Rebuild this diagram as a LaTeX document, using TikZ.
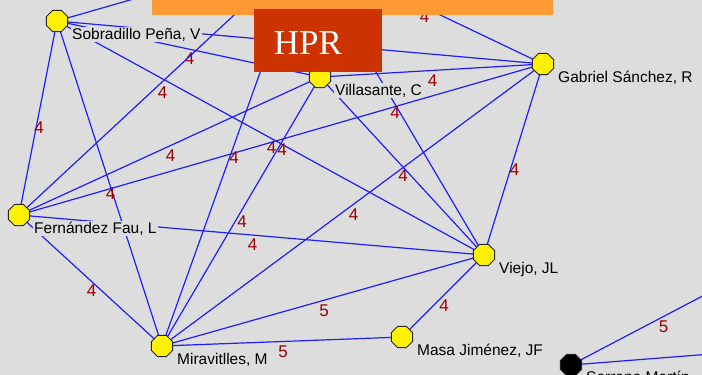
\documentclass[tikz,border=0pt]{standalone}
\usepackage{fontspec}
\setmainfont{Liberation Sans}
\newfontfamily\serifhpr{Liberation Serif}
\usepackage{tikz}
\usetikzlibrary{shapes.geometric}
\definecolor{fundo}{RGB}{221,221,221}
\definecolor{azul}{RGB}{30,30,255}
\definecolor{vermelho}{RGB}{153,0,0}
\definecolor{laranja}{RGB}{255,153,51}
\definecolor{tijolo}{RGB}{204,51,0}
\pgfdeclarelayer{arestas}
\pgfsetlayers{arestas,main}

\begin{document}
\begin{tikzpicture}[x=1pt,y=-1pt,
  ator/.style={regular polygon,regular polygon sides=8,minimum size=23pt,inner sep=0pt,fill=yellow,draw=black!85,line width=0.8pt},
  preto/.style={ator,fill=black},
  nome/.style={anchor=base west,fill=fundo,inner sep=1pt,font=\fontsize{15.5}{16}\selectfont},
  laco/.style={draw=azul,line width=1.2pt},
  peso/.style={midway,yshift=-10pt,xshift=1pt,text=vermelho,font=\fontsize{17}{17}\selectfont}]
\useasboundingbox (0,0) rectangle (702,375);
\clip (0,0) rectangle (702,375);
% Vertices
\node[ator] (sob) at (57,21) {};
\node[ator] (vil) at (320,77) {};
\node[ator] (gab) at (543,64) {};
\node[ator] (fer) at (19,215) {};
\node[ator] (vie) at (484,255) {};
\node[ator] (mir) at (162,346) {};
\node[ator] (mas) at (402,337) {};
\node[preto] (sm) at (571,365) {};
\coordinate (topo) at (304,-50); % fora da figura
\coordinate (ne1) at (754,269);
\coordinate (ne2) at (800,347);
% Arestas
\begin{pgfonlayer}{arestas}
\clip (0,0) rectangle (702,375);
\fill[fundo] (0,0) rectangle (702,375);
\draw[laco] (sob.center) -- (topo);
\draw[laco] (sob) -- (gab);
\draw[laco] (sob) -- (vil) node[peso] {4};
\draw[laco] (sob) -- (vie) node[peso] {4};
\draw[laco] (sob) -- (fer) node[peso] {4};
\draw[laco] (sob) -- (mir) node[peso] {4};
\draw[laco] (fer.center) -- (topo) node[peso] {4};
\draw[laco] (fer) -- (vil) node[peso] {4};
\draw[laco] (fer) -- (gab) node[peso] {4};
\draw[laco] (fer) -- (vie) node[peso] {4};
\draw[laco] (fer) -- (mir) node[peso] {4};
\draw[laco] (mir.center) -- (topo) node[peso] {4};
\draw[laco] (mir) -- (vil) node[peso] {4};
\draw[laco] (mir) -- (gab) node[peso] {4};
\draw[laco] (mir) -- (vie) node[peso] {5};
\draw[laco] (mir) -- (mas) node[peso] {5};
\draw[laco] (vil) -- (gab) node[peso] {4};
\draw[laco] (vil) -- (vie) node[peso] {4};
\draw[laco] (gab) -- (vie) node[peso] {4};
\draw[laco] (gab.center) -- (topo) node[peso] {4};
\draw[laco] (vie.center) -- (topo) node[peso] {4};
\draw[laco] (vie) -- (mas) node[peso] {4};
\draw[laco] (sm.center) -- (ne1) node[peso] {5};
\draw[laco] (sm.center) -- (ne2);
\end{pgfonlayer}
% Rotulos
\node[nome] (sobT) at ([shift={(14,18)}]sob.center) {Sobradillo Peña, V};
\node[nome] (vilT) at ([shift={(14,18)}]vil.center) {Villasante, C};
\node[nome] (gabT) at ([shift={(14,18)}]gab.center) {Gabriel Sánchez, R};
\node[nome] (ferT) at ([shift={(14,18)}]fer.center) {Fernández Fau, L};
\node[nome] (vieT) at ([shift={(14,18)}]vie.center) {Viejo, JL};
\node[nome] (mirT) at ([shift={(14,18)}]mir.center) {Miravitlles, M};
\node[nome] (masT) at ([shift={(14,18)}]mas.center) {Masa Jiménez, JF};
\node[nome] (smT) at ([shift={(14,17)}]sm.center) {Serrano Martín};
% Faixa
\fill[laranja] (152,0) rectangle (553,15);
\fill[tijolo] (254,9) rectangle (382,72);
\node[text=white,font=\serifhpr\fontsize{35}{35}\selectfont,anchor=base] (hpr) at (308,54) {HPR};
\end{tikzpicture}
\end{document}
